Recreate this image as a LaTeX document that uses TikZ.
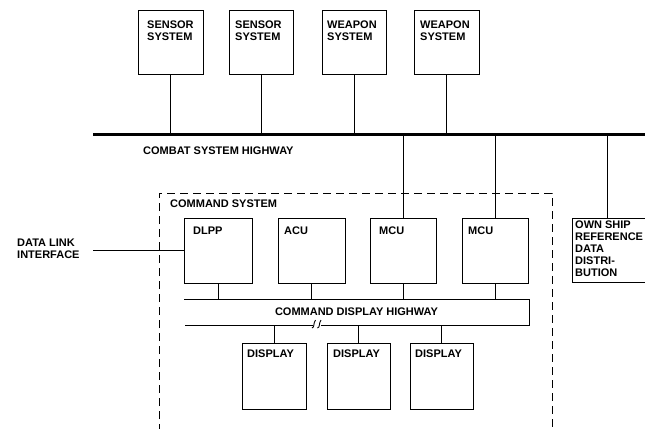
\documentclass[tikz,border=0pt]{standalone}
\usepackage{fontspec}
\setmainfont{Liberation Sans}
\begin{document}
\begin{tikzpicture}[x=1bp,y=-1bp,
  unitbox/.style={draw, line width=0.9bp, inner sep=0pt, outer sep=0pt, rectangle},
  txt/.style={font=\fontsize{11bp}{12bp}\selectfont\bfseries, inner sep=0pt, align=left, anchor=north west},
  wire/.style={line width=0.9bp},
  bus/.style={line width=3bp},
  dashbox/.style={line width=0.9bp, dash pattern=on 8bp off 5bp}]
\useasboundingbox (0,0) rectangle (645,428);
% top systems
\node[unitbox, minimum width=65bp, minimum height=64bp] (s1) at (170.5,42) {};
\node[unitbox, minimum width=64bp, minimum height=64bp] (s2) at (261,42) {};
\node[unitbox, minimum width=64bp, minimum height=64bp] (w1) at (354,42) {};
\node[unitbox, minimum width=65bp, minimum height=64bp] (w2) at (446.5,42) {};
\node[txt] (s1t) at ([xshift=9bp,yshift=-11bp]s1.north west) {SENSOR\\SYSTEM};
\node[txt] (s2t) at ([xshift=6bp,yshift=-11bp]s2.north west) {SENSOR\\SYSTEM};
\node[txt] (w1t) at ([xshift=5bp,yshift=-11bp]w1.north west) {WEAPON\\SYSTEM};
\node[txt] (w2t) at ([xshift=6bp,yshift=-11bp]w2.north west) {WEAPON\\SYSTEM};
% combat system highway
\coordinate (hl) at (93,134);
\coordinate (hr) at (645,134);
\draw[bus] (hl) -- (hr);
\node[txt, anchor=west] (cshtxt) at (143,151) {COMBAT SYSTEM HIGHWAY};
\foreach \n in {s1,s2,w1,w2} \draw[wire] (\n.south) -- (\n.south |- hl);
% command system dashed boundary
\coordinate (dbl) at (159,432);
\coordinate (dtl) at (159,193);
\coordinate (dtr) at (552,193);
\coordinate (dbr) at (552,432);
\draw[dashbox] (dbl) -- (dtl) -- (dtr) -- (dbr);
\node[txt, anchor=west] (cstxt) at (170,204) {COMMAND SYSTEM};
% command system units
\node[unitbox, minimum width=68bp, minimum height=65bp] (dlpp) at (218,250.5) {};
\node[unitbox, minimum width=67bp, minimum height=65bp] (acu) at (311.5,250.5) {};
\node[unitbox, minimum width=66bp, minimum height=65bp] (mcu1) at (403,250.5) {};
\node[unitbox, minimum width=66bp, minimum height=65bp] (mcu2) at (495,250.5) {};
\node[txt] (dlppt) at ([xshift=9bp,yshift=-9bp]dlpp.north west) {DLPP};
\node[txt] (acut) at ([xshift=6bp,yshift=-9bp]acu.north west) {ACU};
\node[txt] (mcu1t) at ([xshift=9bp,yshift=-9bp]mcu1.north west) {MCU};
\node[txt] (mcu2t) at ([xshift=6bp,yshift=-9bp]mcu2.north west) {MCU};
\draw[wire] (mcu1.north |- hl) -- (mcu1.north);
\draw[wire] (mcu2.north |- hl) -- (mcu2.north);
% data link interface
\node[txt, anchor=west] (dli) at (17,249) {DATA LINK\\INTERFACE};
\coordinate (dlie) at (93,250);
\draw[wire] (dlie) -- (dlie -| dlpp.west);
% own ship reference
\node[unitbox, draw=none, minimum width=73.5bp, minimum height=64bp] (own) at (608.75,250) {};
\draw[wire] (own.north east) -- (own.north west) -- (own.south west) -- (own.south east);
\node[txt] (ownt) at ([xshift=3bp,yshift=-3bp]own.north west) {OWN SHIP\\REFERENCE\\DATA\\DISTRI-\\BUTION};
\coordinate (owntap) at (607,134);
\draw[wire] (owntap) -- (owntap |- own.north);
% command display highway
\coordinate (cdtl) at (184,299.5);
\coordinate (cdtr) at (529,299.5);
\coordinate (cdbr) at (529,325);
\coordinate (cdbl) at (185,325);
\coordinate (brk1) at (313,325);
\coordinate (brk2) at (321,325);
\draw[wire] (cdtl) -- (cdtr) -- (cdbr) -- (brk2);
\draw[wire] (cdbl) -- (brk1);
\draw[wire] (312,328) .. controls (315,327) and (313,323) .. (315.5,320);
\draw[wire] (317.5,328) .. controls (320.5,327) and (318.5,323) .. (321,320);
\node[txt, anchor=center] (cdhtxt) at (356.5,312) {COMMAND DISPLAY HIGHWAY};
\foreach \n in {dlpp,acu,mcu1,mcu2} \draw[wire] (\n.south) -- (\n.south |- cdtl);
% displays
\node[unitbox, minimum width=64bp, minimum height=66bp] (d1) at (274,376) {};
\node[unitbox, minimum width=63bp, minimum height=66bp] (d2) at (358.5,376) {};
\node[unitbox, minimum width=63bp, minimum height=66bp] (d3) at (441.5,376) {};
\node[txt] (d1t) at ([xshift=5bp,yshift=-7bp]d1.north west) {DISPLAY};
\node[txt] (d2t) at ([xshift=6bp,yshift=-7bp]d2.north west) {DISPLAY};
\node[txt] (d3t) at ([xshift=5bp,yshift=-7bp]d3.north west) {DISPLAY};
\foreach \n in {d1,d2,d3} \draw[wire] (\n.north |- cdbr) -- (\n.north);
\end{tikzpicture}
\end{document}
